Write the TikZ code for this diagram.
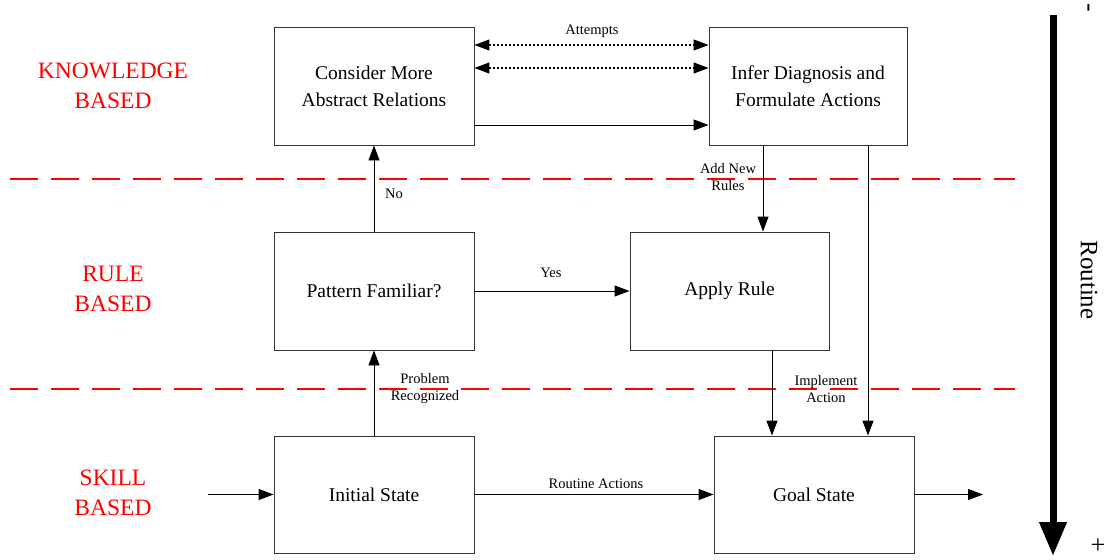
\documentclass[tikz,border=0pt]{standalone}
\usepackage{fontspec}
\setmainfont{Liberation Serif}
\usetikzlibrary{arrows.meta,calc}
\tikzset{
  stepbox/.style={draw=black!80,line width=0.9pt,minimum width=200pt,minimum height=118pt,
    align=center,font=\fontsize{19.5}{27}\selectfont,inner sep=0pt},
  arr/.style={draw=black,line width=0.9pt,-{Triangle[length=15pt,width=11pt]}},
  dblarr/.style={draw=black,line width=1.1pt,dash pattern=on 2pt off 2pt,
    {Triangle[length=15pt,width=11pt]}-{Triangle[length=15pt,width=11pt]}},
  elabel/.style={font=\fontsize{14.5}{17}\selectfont,align=center,inner sep=1pt},
  level/.style={text=red,font=\fontsize{23.5}{30}\selectfont,align=center},
  divider/.style={draw=red,line width=1.2pt,dash pattern=on 28pt off 13pt},
}
\begin{document}
\begin{tikzpicture}[x=1pt,y=-1pt]
\useasboundingbox (0,0) rectangle (1112,560);

% level dividers
\draw[divider] (10,179) -- (1015,179);
\draw[divider] (10,389) -- (1015,389);

% level names
\node[level] (kb) at (113,86) {KNOWLEDGE\\BASED};
\node[level] (rb) at (113,289) {RULE\\BASED};
\node[level] (sb) at (113,493) {SKILL\\BASED};

% boxes
\node[stepbox] (cons) at (374,86) {Consider More\\Abstract Relations};
\node[stepbox,minimum width=198pt] (infer) at (808,86) {Infer Diagnosis and\\Formulate Actions};
\node[stepbox] (patt) at (374,291) {Pattern Familiar?};
\node[stepbox,minimum width=199pt] (apply) at (729.5,291) {Apply Rule};
\node[stepbox,minimum height=117pt] (init) at (374,494.5) {Initial State};
\node[stepbox,minimum height=117pt] (goal) at (814,494.5) {Goal State};

% knowledge-level connectors
\draw[dblarr] (cons.east |- 0,45) -- (infer.west |- 0,45);
\draw[dblarr] (cons.east |- 0,68) -- (infer.west |- 0,68);
\node[elabel] (att) at (592,31) {Attempts};
\draw[arr] (cons.east |- 0,125) -- (infer.west |- 0,125);

% upward path
\draw[arr] (patt.north) -- (cons.south);
\node[elabel] (no) at (394,194) {No};
\draw[arr] (init.north) -- (patt.south);
\node[elabel] (prob) at (425,389) {Problem\\Recognized};

% rule level
\draw[arr] (patt.east) -- (apply.west);
\node[elabel] (yes) at (551,273) {Yes};
\draw[arr] (infer.south -| 763,0) -- (apply.north -| 763,0);
\node[elabel] (add) at (728,177) {Add New\\Rules};

% down to goal
\draw[arr] (infer.south -| 868,0) -- (goal.north -| 868,0);
\draw[arr] (apply.south -| 772,0) -- (goal.north -| 772,0);
\node[elabel] (impl) at (826,389) {Implement\\Action};

% skill level
\coordinate (entry) at (208,494.5);
\coordinate (exit) at (983,494.5);
\draw[arr] (entry) -- (init.west);
\draw[arr] (init.east) -- (goal.west);
\node[elabel] (rout) at (596,484) {Routine Actions};
\draw[arr] (goal.east) -- (exit);

% routine scale
\coordinate (rtop) at (1053,15);
\coordinate (rbot) at (1053,556);
\draw[line width=7pt,-{Triangle[length=34pt,width=26pt]}] (rtop) -- (rbot);
\node[font=\fontsize{26}{26}\selectfont,rotate=-90,inner sep=0pt] (minus) at (1086,8) {-};
\node[font=\fontsize{26}{26}\selectfont] (plus) at (1098,546) {+};
\node[font=\fontsize{25}{25}\selectfont,rotate=-90] (rlab) at (1089,280) {Routine};
\end{tikzpicture}
\end{document}
